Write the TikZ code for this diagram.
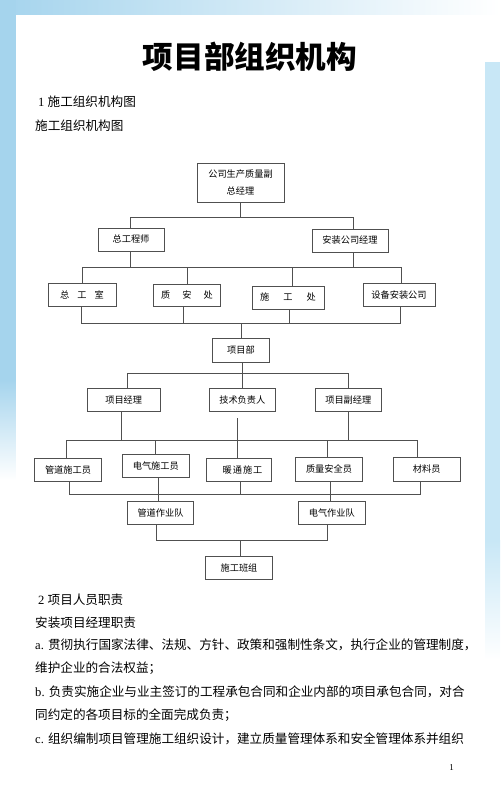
\documentclass[tikz,border=0pt]{standalone}
\usepackage{fontspec}
\setmainfont{Liberation Serif}
\newfontfamily\cjk{Noto Sans CJK SC}
\definecolor{bgblue}{RGB}{165,212,237}
\definecolor{bgblue2}{RGB}{200,231,246}
\definecolor{ln}{RGB}{80,80,80}
\tikzset{
  orgbox/.style={draw=ln, line width=0.7pt, inner sep=0pt, align=center, fill=white,
    font=\cjk\fontsize{9.2}{16.7}\selectfont},
  conn/.style={draw=ln, line width=0.7pt},
  bodytxt/.style={anchor=base west, inner sep=0pt, font=\fontsize{12.6}{15}\selectfont},
}
\begin{document}
\begin{tikzpicture}[x=1pt,y=-1pt]
\useasboundingbox (0,0) rectangle (500,794);
% background
\fill[white] (0,0) rectangle (500,794);
\shade[left color=bgblue, right color=white] (0,0) rectangle (500,15);
\fill[bgblue] (0,0) rectangle (16,380);
\shade[top color=bgblue, bottom color=white] (0,380) rectangle (16,480);
\fill[bgblue2] (485,62) rectangle (500,540);
\shade[top color=bgblue2, bottom color=white] (485,540) rectangle (500,660);
\fill[white] (16,15) rectangle (485,794);

% texts
\node[inner sep=0pt, font=\cjk\bfseries\fontsize{30.6}{32}\selectfont] (title) at (250,57) {项目部组织机构};
\node[bodytxt] (t1) at (38,106.5) {1 {\cjk 施工组织机构图}};
\node[bodytxt] (t2) at (35,130.5) {\cjk 施工组织机构图};
\node[bodytxt] (t3) at (38,604.5) {2 {\cjk 项目人员职责}};
\node[bodytxt] (t4) at (35,627) {\cjk 安装项目经理职责};
\node[bodytxt] (t5) at (35,649.5) {a. {\cjk 贯彻执行国家法律、法规、方针、政策和强制性条文，执行企业的管理制度，}};
\node[bodytxt] (t6) at (35,672) {\cjk 维护企业的合法权益；};
\node[bodytxt] (t7) at (35,696) {b. {\cjk 负责实施企业与业主签订的工程承包合同和企业内部的项目承包合同，对合}};
\node[bodytxt] (t8) at (35,719.5) {\cjk 同约定的各项目标的全面完成负责；};
\node[bodytxt] (t9) at (35,743) {c. {\cjk 组织编制项目管理施工组织设计，建立质量管理体系和安全管理体系并组织}};
\node[inner sep=0pt, font=\fontsize{9}{10}\selectfont] (pg) at (451.7,768) {1};

% boxes
\node[orgbox, minimum width=87pt, minimum height=39pt] (gm) at (240.5,182.5) {公司生产质量副\\总经理};
\node[orgbox, minimum width=66pt, minimum height=23pt] (zgcs) at (131,239.5) {总工程师};
\node[orgbox, minimum width=76pt, minimum height=23pt] (azjl) at (350,240.5) {安装公司经理};
\node[orgbox, minimum width=68pt, minimum height=23.5pt] (zgs) at (82,295) {总\hspace{8pt}工\hspace{8pt}室};
\node[orgbox, minimum width=67.5pt, minimum height=22pt] (zac) at (187,295) {质\hspace{12pt}安\hspace{12pt}处};
\node[orgbox, minimum width=72pt, minimum height=23pt] (sgc) at (288,297.5) {施\hspace{14pt}工\hspace{14pt}处};
\node[orgbox, minimum width=72pt, minimum height=23.5pt] (sbaz) at (399,295) {设备安装公司};
\node[orgbox, minimum width=56.5pt, minimum height=24pt] (xmb) at (241,350) {项目部};
\node[orgbox, minimum width=73pt, minimum height=23.5pt] (xmjl) at (123.7,400) {项目经理};
\node[orgbox, minimum width=66pt, minimum height=23.5pt] (jsfz) at (242.3,400) {技术负责人};
\node[orgbox, minimum width=65.3pt, minimum height=23.5pt] (xmfjl) at (348.3,400) {项目副经理};
\node[orgbox, minimum width=67.4pt, minimum height=23.3pt] (gdsgy) at (68,469.5) {管道施工员};
\node[orgbox, minimum width=67pt, minimum height=23.4pt] (dqsgy) at (155.8,466) {电气施工员};
\node[orgbox, minimum width=65pt, minimum height=22.7pt] (nt) at (238.5,469.7) {\hspace*{8pt}暖\hspace{1pt}通\hspace{1pt}施\hspace{1pt}工};
\node[orgbox, minimum width=66.6pt, minimum height=23.3pt] (zlaq) at (329,469.3) {质量安全员};
\node[orgbox, minimum width=66.7pt, minimum height=23.3pt] (cly) at (426.7,469.3) {材料员};
\node[orgbox, minimum width=66.4pt, minimum height=23pt] (gdzyd) at (160.5,512.8) {管道作业队};
\node[orgbox, minimum width=66.3pt, minimum height=23pt] (dqzyd) at (331.8,512.8) {电气作业队};
\node[orgbox, minimum width=66.6pt, minimum height=23pt] (sgbz) at (239,567.5) {施工班组};

% level 1
\coordinate (bus1) at (240,217);
\draw[conn] (gm.south) -- (gm.south |- bus1);
\draw[conn] ([xshift=-1pt]zgcs.north) |- ([xshift=3pt]azjl.north |- bus1) -- ([xshift=3pt]azjl.north);
% level 2
\coordinate (bus2) at (0,267);
\draw[conn] ([xshift=-1pt]zgcs.south) -- ([xshift=-1pt]zgcs.south |- bus2);
\draw[conn] ([xshift=3pt]azjl.south) -- ([xshift=3pt]azjl.south |- bus2);
\draw[conn] (zgs.north) |- ([xshift=2pt]sbaz.north |- bus2) -- ([xshift=2pt]sbaz.north);
\draw[conn] (zac.north) -- (zac.north |- bus2);
\draw[conn] ([xshift=4pt]sgc.north) -- ([xshift=4pt]sgc.north |- bus2);
% level 3
\coordinate (bus3) at (0,323);
\draw[conn] ([xshift=-1pt]zgs.south) |- ([xshift=1pt]sbaz.south |- bus3) -- ([xshift=1pt]sbaz.south);
\draw[conn] ([xshift=-4pt]zac.south) -- ([xshift=-4pt]zac.south |- bus3);
\draw[conn] ([xshift=1pt]sgc.south) -- ([xshift=1pt]sgc.south |- bus3);
\draw[conn] (xmb.north) -- (xmb.north |- bus3);
% level 4
\coordinate (bus4) at (0,373);
\draw[conn] ([xshift=1pt]xmb.south) -- ([xshift=1pt]xmb.south |- bus4);
\draw[conn] ([xshift=4pt]xmjl.north) |- (xmfjl.north |- bus4) -- (xmfjl.north);
\draw[conn] (jsfz.north) -- (jsfz.north |- bus4);
% level 5
\coordinate (bus5) at (0,440);
\draw[conn] ([xshift=-2pt]xmjl.south) -- ([xshift=-2pt]xmjl.south |- bus5);
\draw[conn] (xmfjl.south) -- (xmfjl.south |- bus5);
\draw[conn] ([xshift=-2pt]gdsgy.north) |- ([xshift=-9.5pt]cly.north |- bus5) -- ([xshift=-9.5pt]cly.north);
\draw[conn] (dqsgy.north) -- (dqsgy.north |- bus5);
\draw[conn] ([xshift=-2pt]zlaq.north) -- ([xshift=-2pt]zlaq.north |- bus5);
\coordinate (jsgap) at ([yshift=-6pt]jsfz.south);
\draw[conn] ([xshift=-1pt]nt.north |- jsgap) -- ([xshift=-1pt]nt.north);
% level 6
\coordinate (bus6) at (0,494);
\draw[conn] ([xshift=1pt]gdsgy.south) |- ([xshift=-6.5pt]cly.south |- bus6) -- ([xshift=-6.5pt]cly.south);
\draw[conn] ([xshift=2pt]nt.south) -- ([xshift=2pt]nt.south |- bus6);
\draw[conn] ([xshift=3pt]dqsgy.south) -- ([xshift=3pt]dqsgy.south |- gdzyd.north);
\draw[conn] ([xshift=1pt]zlaq.south) -- ([xshift=1pt]zlaq.south |- dqzyd.north);
% level 7
\coordinate (bus7) at (0,540);
\draw[conn] ([xshift=-4.5pt]gdzyd.south) |- ([xshift=-4.5pt]dqzyd.south |- bus7) -- ([xshift=-4.5pt]dqzyd.south);
\draw[conn] ([xshift=1.5pt]sgbz.north) -- ([xshift=1.5pt]sgbz.north |- bus7);
\end{tikzpicture}
\end{document}
